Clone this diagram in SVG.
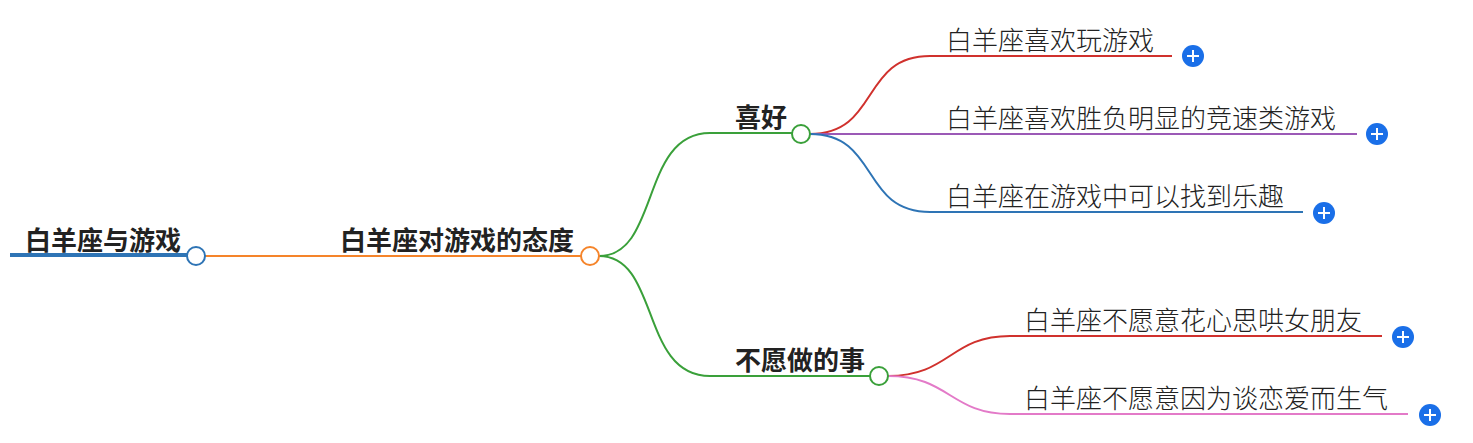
<svg xmlns="http://www.w3.org/2000/svg" width="1473" height="443" viewBox="0 0 1473 443">
<style>
.b{font-family:"Noto Sans CJK SC","Noto Sans",sans-serif;font-weight:700;font-size:26px;fill:#222}
.l{font-family:"Noto Sans CJK SC","Noto Sans",sans-serif;font-weight:300;font-size:26px;fill:#222}
.c{fill:#fff;stroke-width:2}
.e{fill:none;stroke-width:2}
.p{fill:#1a6fe8}
.pl{stroke:#fff;stroke-width:2}
</style>
<rect width="1473" height="443" fill="#fff"/>
<g id="connectors">
<path d="M10 255H187" stroke="#2e74b5" stroke-width="4" fill="none"/>
<path d="M205 256H581" class="e" stroke="#f5842a"/>
<path d="M599 256C660 256 640 133 710 133H792" class="e" stroke="#3aa03a"/>
<path d="M599 256C660 256 640 376 710 376H870" class="e" stroke="#3aa03a"/>
<path d="M810 134C880 134 860 56 930 56H1172" class="e" stroke="#d0312d"/>
<path d="M810 134H1357" class="e" stroke="#9b59b6"/>
<path d="M810 134C880 134 860 212 930 212H1303" class="e" stroke="#2e74b5"/>
<path d="M888 376C950 376 950 336 1010 336H1382" class="e" stroke="#d0312d"/>
<path d="M888 376C950 376 950 414 1010 414H1408" class="e" stroke="#e37ac8"/>
</g>
<g id="root"><text class="b" x="25" y="250">白羊座与游戏</text><circle class="c" cx="196" cy="256" r="9" stroke="#2e74b5"/></g>
<g id="attitude"><text class="b" x="340" y="250">白羊座对游戏的态度</text><circle class="c" cx="590" cy="256" r="9" stroke="#f5842a"/></g>
<g id="like"><text class="b" x="735" y="127">喜好</text><circle class="c" cx="801" cy="134" r="9" stroke="#3aa03a"/></g>
<g id="unwilling"><text class="b" x="735" y="370">不愿做的事</text><circle class="c" cx="879" cy="376" r="9" stroke="#3aa03a"/></g>
<g id="c1"><text class="l" x="946" y="50">白羊座喜欢玩游戏</text><circle class="p" cx="1193" cy="56" r="11"/><path class="pl" d="M1187 56h12M1193 50v12"/></g>
<g id="c2"><text class="l" x="946" y="128">白羊座喜欢胜负明显的竞速类游戏</text><circle class="p" cx="1377" cy="134" r="11"/><path class="pl" d="M1371 134h12M1377 128v12"/></g>
<g id="c3"><text class="l" x="946" y="206">白羊座在游戏中可以找到乐趣</text><circle class="p" cx="1324" cy="213" r="11"/><path class="pl" d="M1318 213h12M1324 207v12"/></g>
<g id="c4"><text class="l" x="1024" y="330">白羊座不愿意花心思哄女朋友</text><circle class="p" cx="1403" cy="337" r="11"/><path class="pl" d="M1397 337h12M1403 331v12"/></g>
<g id="c5"><text class="l" x="1024" y="408">白羊座不愿意因为谈恋爱而生气</text><circle class="p" cx="1430" cy="415" r="11"/><path class="pl" d="M1424 415h12M1430 409v12"/></g>
</svg>
